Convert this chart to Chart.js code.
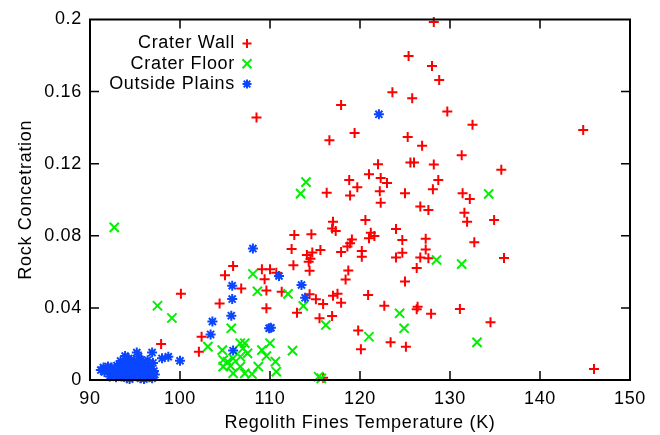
<!DOCTYPE html>
<html><head><meta charset="utf-8">
<script src="https://cdn.jsdelivr.net/npm/chart.js@4"></script>
<style>html,body{margin:0;padding:0;background:#fff}</style>
</head><body>
<canvas id="c" width="660" height="435"></canvas>
<script>
const seriesNames = ['Crater Wall', 'Crater Floor', 'Outside Plains'];
const seriesColors = ['#ff0000', '#00f000', '#0a46ff'];
const seriesStyles = ['cross', 'crossRot', 'star'];

const craterWallX = [128.2,125.4,128.0,128.8,123.6,125.8,117.9,108.5,129.7,132.5,144.8,119.4,116.6,125.3,126.9,131.3,128.2,135.7,128.7,128.1,131.4,132.2,126.7,127.6,131.6,131.9,134.9,127.3,132.7,127.3,126.7,127.6,136.0,126.4,126.3,127.9,131.1,134.5,146.0,116.3,118.8,119.7,118.9,121.0,122.0,122.3,123.0,122.2,122.3,125.6,126.0,125.0,120.6,117.0,116.9,117.3,124.0,112.7,114.6,121.2,121.0,121.6,119.1,124.7,112.4,115.6,118.9,118.6,117.9,114.1,114.7,114.5,114.3,120.2,120.2,124.7,124.0,112.6,114.4,118.7,118.4,126.3,125.0,111.3,114.4,117.0,117.5,117.9,120.9,122.7,116.9,119.8,123.4,120.1,125.1,100.1,105.9,105.0,109.1,110.0,110.7,109.4,106.8,109.6,115.1,115.9,113.0,115.5,104.4,109.6,102.4,102.1,97.9,115.9];
const craterWallY = [0.1986,0.1797,0.1742,0.1664,0.1596,0.1563,0.1526,0.1457,0.149,0.1416,0.1387,0.137,0.133,0.1348,0.130,0.1247,0.1195,0.1167,0.111,0.1058,0.1036,0.1004,0.0963,0.0943,0.0928,0.0878,0.0888,0.0784,0.0764,0.0724,0.0679,0.0675,0.0677,0.0407,0.0392,0.0368,0.0394,0.032,0.0061,0.1039,0.111,0.1069,0.1023,0.1141,0.1197,0.1121,0.1093,0.1047,0.0984,0.1206,0.1206,0.1036,0.0888,0.0878,0.0841,0.0827,0.0838,0.0804,0.0808,0.0817,0.0786,0.0799,0.078,0.0777,0.0727,0.0721,0.0758,0.074,0.071,0.0693,0.0708,0.0672,0.0656,0.0716,0.0684,0.0706,0.068,0.0636,0.0606,0.0607,0.0558,0.0621,0.0547,0.049,0.0476,0.0468,0.0478,0.0429,0.0471,0.0412,0.0355,0.0274,0.0209,0.017,0.0185,0.0478,0.0632,0.0581,0.0614,0.0614,0.0595,0.0559,0.0507,0.0496,0.0448,0.0422,0.0373,0.0342,0.0425,0.0398,0.024,0.0157,0.02,0.0013];

const craterFloorX = [92.7,97.5,99.1,103.1,104.7,105.7,108.1,108.6,110.0,112.0,113.7,116.2,112.5,106.7,107.2,107.0,107.5,106.7,105.9,104.8,105.3,105.6,104.8,106.7,105.9,107.2,108.0,108.7,109.1,109.6,110.6,110.7,115.4,115.7,114.0,113.4,121.0,124.4,124.9,128.5,131.3,134.3,133.0];
const craterFloorY = [0.0847,0.0412,0.0344,0.0185,0.0166,0.0287,0.0588,0.0492,0.0204,0.0478,0.0411,0.0305,0.0163,0.0204,0.0204,0.0176,0.0148,0.0129,0.012,0.0111,0.0102,0.0078,0.0074,0.0074,0.0037,0.0037,0.0033,0.0074,0.0166,0.0133,0.0102,0.0046,0.0018,0.0009,0.1098,0.1034,0.024,0.037,0.0287,0.0666,0.0643,0.1032,0.0209];

const outsidePlainsX = [122.1,108.1,111.0,113.5,113.9,105.8,105.8,105.7,103.6,103.4,109.9,110.1,105.9,91.2,91.6,91.8,92.1,92.3,92.4,92.6,92.8,93.0,93.0,93.2,93.4,93.5,93.6,93.8,93.9,94.0,94.1,94.2,94.3,94.5,94.6,94.7,94.8,95.0,95.1,95.2,95.3,95.4,95.5,95.7,95.8,95.9,96.0,96.1,96.3,96.5,96.7,96.9,97.0,97.1,98.0,98.7,100.0,91.5,92.0,92.2,92.5,92.9,93.1,93.3,93.7,93.9,94.0,94.2,94.4,94.4,94.6,94.9,94.9,95.1,95.3,95.6,95.6,95.9,96.2,96.2,96.4,96.6,96.8,96.9,97.2,93.4,94.3,95.4,96.4];
const outsidePlainsY = [0.1474,0.0729,0.0577,0.0527,0.0456,0.0523,0.0449,0.0357,0.0324,0.0253,0.0287,0.029,0.0163,0.0055,0.0045,0.006,0.005,0.0035,0.007,0.004,0.0055,0.003,0.008,0.005,0.0065,0.002,0.009,0.004,0.0133,0.006,0.001,0.0085,0.003,0.0055,0.011,0.0015,0.0075,0.004,0.0095,0.0152,0.002,0.006,0.0085,0.0111,0.003,0.0065,0.0005,0.009,0.0045,0.007,0.0018,0.0152,0.0095,0.005,0.012,0.0129,0.0107,0.007,0.0075,0.002,0.0055,0.0015,0.0065,0.0035,0.0075,0.0025,0.0095,0.0045,0.0075,0.0005,0.0035,0.0065,0.0105,0.0025,0.0045,0.0065,0.001,0.0045,0.0075,0.0015,0.0055,0.0035,0.006,0.001,0.003,0.0105,0.012,0.013,0.011];

const xTicks = [90, 100, 110, 120, 130, 140, 150];
const yTicks = [0, 0.04, 0.08, 0.12, 0.16, 0.2];
const yTickLabels = ['0', '0.04', '0.08', '0.12', '0.16', '0.2'];
const xTitle = 'Regolith Fines Temperature (K)';
const yTitle = 'Rock Concetration';

const FONT = {family: "'Liberation Sans', Arial, sans-serif", size: 18};
const LS = '0.7px';

function pts(xs, ys) { return xs.map((v, i) => ({x: v, y: ys[i]})); }

const spacing = {
  id: 'spacing',
  beforeUpdate(chart) { chart.ctx.letterSpacing = LS; },
  beforeDraw(chart) { chart.ctx.letterSpacing = LS; }
};

function marker(ctx, style, x, y, color) {
  ctx.save();
  ctx.strokeStyle = color; ctx.lineWidth = 2;
  ctx.beginPath();
  if (style === 'cross' || style === 'star') {
    const r = 4.5;
    ctx.moveTo(x - r, y); ctx.lineTo(x + r, y);
    ctx.moveTo(x, y - r); ctx.lineTo(x, y + r);
  }
  if (style === 'crossRot' || style === 'star') {
    const r = style === 'star' ? 3.3 : 4.5;
    ctx.moveTo(x - r, y - r); ctx.lineTo(x + r, y + r);
    ctx.moveTo(x - r, y + r); ctx.lineTo(x + r, y - r);
  }
  ctx.stroke();
  ctx.restore();
}

const frame = {
  id: 'frame',
  afterDraw(chart) {
    const {ctx, chartArea: a, scales} = chart;
    ctx.save();
    ctx.strokeStyle = '#000';
    ctx.lineWidth = 1.5;
    ctx.beginPath();
    xTicks.forEach(v => {
      const p = scales.x.getPixelForValue(v);
      if (Math.abs(p - a.left) < 1 || Math.abs(p - a.right) < 1) return;
      ctx.moveTo(p, a.bottom); ctx.lineTo(p, a.bottom - 9);
      ctx.moveTo(p, a.top); ctx.lineTo(p, a.top + 9);
    });
    yTicks.forEach(v => {
      const p = scales.y.getPixelForValue(v);
      if (Math.abs(p - a.top) < 1 || Math.abs(p - a.bottom) < 1) return;
      ctx.moveTo(a.left, p); ctx.lineTo(a.left + 9, p);
      ctx.moveTo(a.right, p); ctx.lineTo(a.right - 9, p);
    });
    ctx.stroke();
    ctx.lineWidth = 2;
    ctx.strokeRect(a.left, a.top, a.right - a.left, a.bottom - a.top);
    ctx.letterSpacing = LS;
    ctx.font = FONT.size + "px " + FONT.family;
    ctx.fillStyle = '#000';
    ctx.textAlign = 'right';
    ctx.textBaseline = 'middle';
    seriesNames.forEach((n, i) => {
      const y = 43.5 + i * 20.3;
      ctx.fillText(n, 235, y);
      marker(ctx, seriesStyles[i], 247, y, seriesColors[i]);
    });
    ctx.restore();
  }
};

function ds(label, xs, ys, i) {
  return {
    label, data: pts(xs, ys),
    pointStyle: seriesStyles[i],
    pointRadius: i === 1 ? 6.5 : 5,
    pointBorderWidth: 2,
    borderColor: seriesColors[i],
    backgroundColor: seriesColors[i],
    showLine: false,
    clip: false,
    order: 2 - i
  };
}

new Chart(document.getElementById('c'), {
  type: 'scatter',
  data: {
    datasets: [
      ds(seriesNames[0], craterWallX, craterWallY, 0),
      ds(seriesNames[1], craterFloorX, craterFloorY, 1),
      ds(seriesNames[2], outsidePlainsX, outsidePlainsY, 2)
    ]
  },
  options: {
    responsive: false,
    animation: false,
    devicePixelRatio: 1,
    layout: {padding: {left: 0, right: 30, top: 19.5, bottom: 0}},
    plugins: {legend: {display: false}, tooltip: {enabled: false}},
    scales: {
      x: {
        type: 'linear', min: 90, max: 150,
        afterBuildTicks: s => { s.ticks = xTicks.map(v => ({value: v})); },
        ticks: {color: '#000', font: FONT, padding: 8, maxRotation: 0, autoSkip: false},
        grid: {display: false, drawTicks: false},
        border: {display: false},
        title: {display: true, text: xTitle, color: '#000', font: FONT, padding: {top: 0, bottom: 1}},
        afterFit: s => { s.height = 55; }
      },
      y: {
        type: 'linear', min: 0, max: 0.2,
        afterBuildTicks: s => { s.ticks = yTicks.map(v => ({value: v})); },
        ticks: {color: '#000', font: FONT, padding: 8, autoSkip: false,
                callback: (v, i) => yTickLabels[i]},
        grid: {display: false, drawTicks: false},
        border: {display: false},
        title: {display: true, text: yTitle, color: '#000', font: FONT, padding: {top: 15, bottom: 0}},
        afterFit: s => { s.width = 90; }
      }
    }
  },
  plugins: [spacing, frame]
});
</script>
</body></html>
